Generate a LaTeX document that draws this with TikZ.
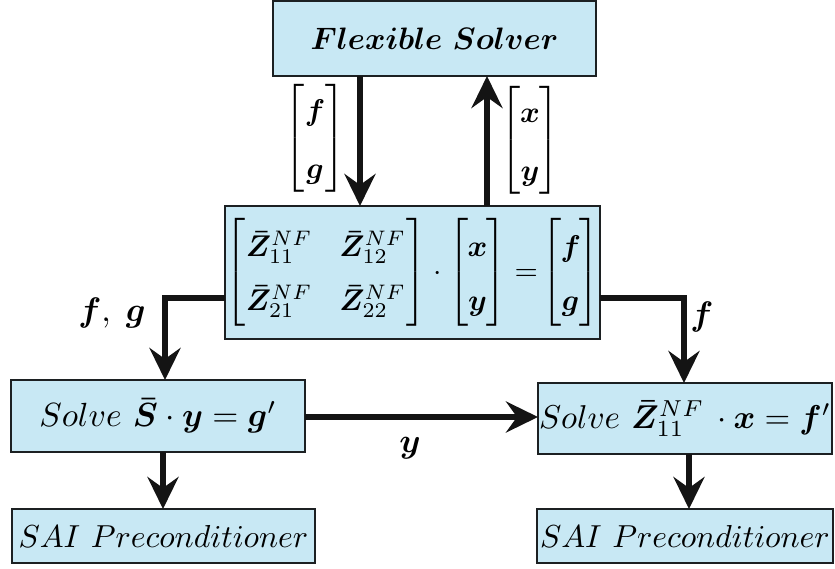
\documentclass[tikz,border=0pt]{standalone}
\usepackage{amsmath,bm,graphicx}
\usetikzlibrary{arrows.meta}
\definecolor{boxfill}{RGB}{200,232,244}
\definecolor{boxline}{RGB}{28,32,34}
\newcommand{\myscale}[2]{\scalebox{#1}{#2}}
\newcommand{\vecx}[2]{\left[\begin{array}{@{\hspace{-0.3pt}}c@{\hspace{-0.3pt}}}#1\\ #2\end{array}\right]}
\begin{document}
\begin{tikzpicture}[x=1pt,y=-1pt,
  blk/.style={draw=boxline,fill=boxfill,line width=2.5pt,inner sep=0pt,outer sep=0pt},
  flow/.style={line width=6.5pt,draw=black!92,-{Stealth[length=32pt,width=31pt,inset=11pt]}},
  lbl/.style={inner sep=0pt},
  ]
\useasboundingbox (0,0) rectangle (835,568);
% boxes
\node[blk,minimum width=323pt,minimum height=75pt] (top) at (434.5,38.5)
  {\myscale{3.1}{$\bm{Flexible\ Solver}$}};
\node[blk,minimum width=371pt,minimum height=133pt] (mid) at (412.5,272.5)
  {\myscale{3.0}{\renewcommand{\arraystretch}{1.5}%
  $\left[\begin{array}{@{\hspace{0.3pt}}c@{\hspace{9pt}}c@{\hspace{0.3pt}}}\bm{\bar Z}_{11}^{NF} & \bm{\bar Z}_{12}^{NF}\\ \bm{\bar Z}_{21}^{NF} & \bm{\bar Z}_{22}^{NF}\end{array}\right]\cdot
  \vecx{\bm x}{\bm y}=\!\vecx{\bm f}{\bm g}$}};
\node[blk,minimum width=294pt,minimum height=72pt] (lsolve) at (158,416)
  {\myscale{3.35}{$Solve\ \bm{\bar S}\cdot\bm y=\bm g'$}};
\node[blk,minimum width=294pt,minimum height=71pt] (rsolve) at (685,418.5)
  {\myscale{3.3}{$Solve\ \bm{\bar Z}_{11}^{NF}\,\cdot\bm x=\bm f'$}};
\node[blk,minimum width=303pt,minimum height=54pt] (lsai) at (163.5,536)
  {\myscale{3.18}{$SAI\ Preconditioner$}};
\node[blk,minimum width=296pt,minimum height=54pt] (rsai) at (685,536)
  {\myscale{3.18}{$SAI\ Preconditioner$}};
% helper coordinates
\coordinate (cdn) at (360,0);
\coordinate (cup) at (487,0);
\coordinate (lk) at (165,298);
\coordinate (rk) at (684,298);
\coordinate (hy) at (0,417);
\coordinate (ld) at (163,0);
\coordinate (rd) at (689,0);
% connectors
\draw[flow] (top.south -| cdn) -- (mid.north -| cdn);
\draw[flow] (mid.north -| cup) -- (top.south -| cup);
\draw[flow] (mid.west |- lk) -| (lsolve.north -| lk);
\draw[flow] (mid.east |- rk) -| (rsolve.north -| rk);
\draw[flow] (lsolve.east |- hy) -- (rsolve.west |- hy);
\draw[flow] (lsolve.south -| ld) -- (lsai.north -| ld);
\draw[flow] (rsolve.south -| rd) -- (rsai.north -| rd);
% labels
\node[lbl] (lfg) at (315,138)
  {\myscale{3.0}{\renewcommand{\arraystretch}{1.6}$\begin{bmatrix}\bm f\\ \bm g\end{bmatrix}$}};
\node[lbl] (lxy) at (530,140)
  {\myscale{3.0}{\renewcommand{\arraystretch}{1.6}$\begin{bmatrix}\bm x\\ \bm y\end{bmatrix}$}};
\node[lbl] (lfg2) at (112,313) {\myscale{3.4}{$\bm f,\;\bm g$}};
\node[lbl] (lf) at (702,317) {\myscale{3.4}{$\bm f$}};
\node[lbl] (ly) at (410,448) {\myscale{3.4}{$\bm y$}};
\end{tikzpicture}
\end{document}
